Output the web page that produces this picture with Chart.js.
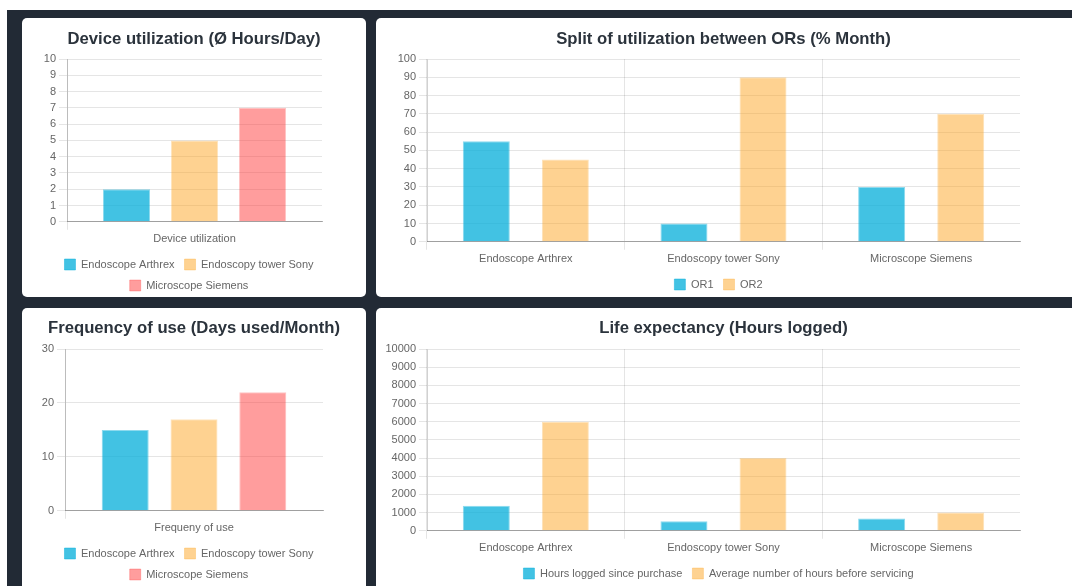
<!DOCTYPE html>
<html>
<head>
<meta charset="utf-8">
<title>Device dashboard</title>
<script src="https://cdn.jsdelivr.net/npm/chart.js@4.4.0/dist/chart.umd.min.js"></script>
<style>
html, body { margin: 0; padding: 0; width: 1072px; height: 586px; overflow: hidden; background: #fff; }
.panel { position: absolute; left: 7px; top: 10px; width: 1100px; height: 600px; background: #222a35; }
.card { position: absolute; background: #fff; border-radius: 5px; }
.card canvas { position: absolute; left: 0; top: 0; }
</style>
</head>
<body>
<div class="panel"></div>
<div class="card" style="left:22px;top:18px;width:344px;height:279px;"><canvas id="utilChart" width="344" height="283"></canvas></div>
<div class="card" style="left:376px;top:18px;width:720px;height:279px;"><canvas id="splitChart" width="695" height="282"></canvas></div>
<div class="card" style="left:22px;top:308px;width:344px;height:290px;"><canvas id="freqChart" width="344" height="282"></canvas></div>
<div class="card" style="left:376px;top:308px;width:720px;height:290px;"><canvas id="lifeChart" width="695" height="281"></canvas></div>
<script>
// data
const devices = ['Endoscope Arthrex', 'Endoscopy tower Sony', 'Microscope Siemens'];
const hoursPerDay = [2, 5, 7];
const daysPerMonth = [15, 17, 22];
const or1Share = [55, 10, 30];
const or2Share = [45, 90, 70];
const hoursLogged = [1380, 530, 680];
const hoursBeforeService = [6000, 4000, 1000];

const fills = ['rgba(3,173,217,0.75)', 'rgba(253,165,35,0.5)', 'rgba(255,60,60,0.5)'];
const borders = ['rgba(3,173,217,0.45)', 'rgba(253,165,35,0.3)', 'rgba(255,60,60,0.3)'];

Chart.defaults.font.family = 'Arial, "Liberation Sans", sans-serif';
Chart.defaults.font.size = 11;
Chart.defaults.color = '#666';

// old-style legend centring: row sits a few px left of centre
const legendNudge = {
    id: 'legendNudge',
    afterLayout: function (chart) {
        if (chart.legend) {
            chart.legend.left -= 5;
            chart.legend.right -= 5;
        }
    }
};

function barSet(label, data, i) {
    return {
        label: label,
        data: data,
        backgroundColor: fills[i],
        borderColor: borders[i],
        borderWidth: 1,
        maxBarThickness: 47
    };
}

function makeChart(id, labels, datasets, opt) {
    const config = {
        type: 'bar',
        data: { labels: labels, datasets: datasets },
        plugins: [legendNudge],
        options: {
            responsive: false,
            animation: false,
            layout: { padding: { left: 10, right: 10, top: 0, bottom: 0 } },
            plugins: {
                title: {
                    display: true,
                    text: opt.title,
                    color: '#2b333c',
                    font: { size: 16.7, weight: 'bold' },
                    padding: opt.titlePad
                },
                legend: {
                    display: true,
                    position: 'bottom',
                    labels: { boxWidth: 11, boxHeight: 11, padding: 10, color: '#666' }
                },
                tooltip: { enabled: false }
            },
            scales: {
                x: {
                    grid: {
                        // no line on the far right edge
                        color: function (ctx) { return ctx.tick ? 'rgba(0,0,0,0.1)' : 'rgba(0,0,0,0)'; }
                    },
                    border: { color: 'rgba(0,0,0,0.3)' },
                    ticks: { color: '#666' }
                },
                y: {
                    min: 0,
                    max: opt.max,
                    ticks: {
                        stepSize: opt.step,
                        color: '#666',
                        callback: function (v) { return String(v); }
                    },
                    grid: { color: 'rgba(0,0,0,0.1)' },
                    border: { color: 'rgba(0,0,0,0.18)' },
                    afterFit: function (s) { s.width = opt.yWidth; }
                },
                // empty axis on the right so the plot sits centred in the card
                yRight: {
                    type: 'linear',
                    position: 'right',
                    display: true,
                    grid: { display: false },
                    border: { display: false },
                    ticks: { display: false },
                    afterFit: function (s) { s.width = opt.rWidth; }
                }
            }
        }
    };
    return new Chart(document.getElementById(id), config);
}

makeChart('utilChart', ['Device utilization'],
    devices.map(function (d, i) { return barSet(d, [hoursPerDay[i]], i); }),
    { title: 'Device utilization (Ø Hours/Day)', max: 10, step: 1, yWidth: 35, rWidth: 34, titlePad: { top: 11, bottom: 10 } });

makeChart('splitChart', devices,
    [barSet('OR1', or1Share, 0), barSet('OR2', or2Share, 1)],
    { title: 'Split of utilization between ORs (% Month)', max: 100, step: 10, yWidth: 41, rWidth: 41, titlePad: { top: 11, bottom: 10 } });

makeChart('freqChart', ['Frequeny of use'],
    devices.map(function (d, i) { return barSet(d, [daysPerMonth[i]], i); }),
    { title: 'Frequency of use (Days used/Month)', max: 30, step: 10, yWidth: 33, rWidth: 33, titlePad: { top: 10, bottom: 11 } });

makeChart('lifeChart', devices,
    [barSet('Hours logged since purchase', hoursLogged, 0), barSet('Average number of hours before servicing', hoursBeforeService, 1)],
    { title: 'Life expectancy (Hours logged)', max: 10000, step: 1000, yWidth: 41, rWidth: 41, titlePad: { top: 10, bottom: 11 } });
</script>
</body>
</html>
